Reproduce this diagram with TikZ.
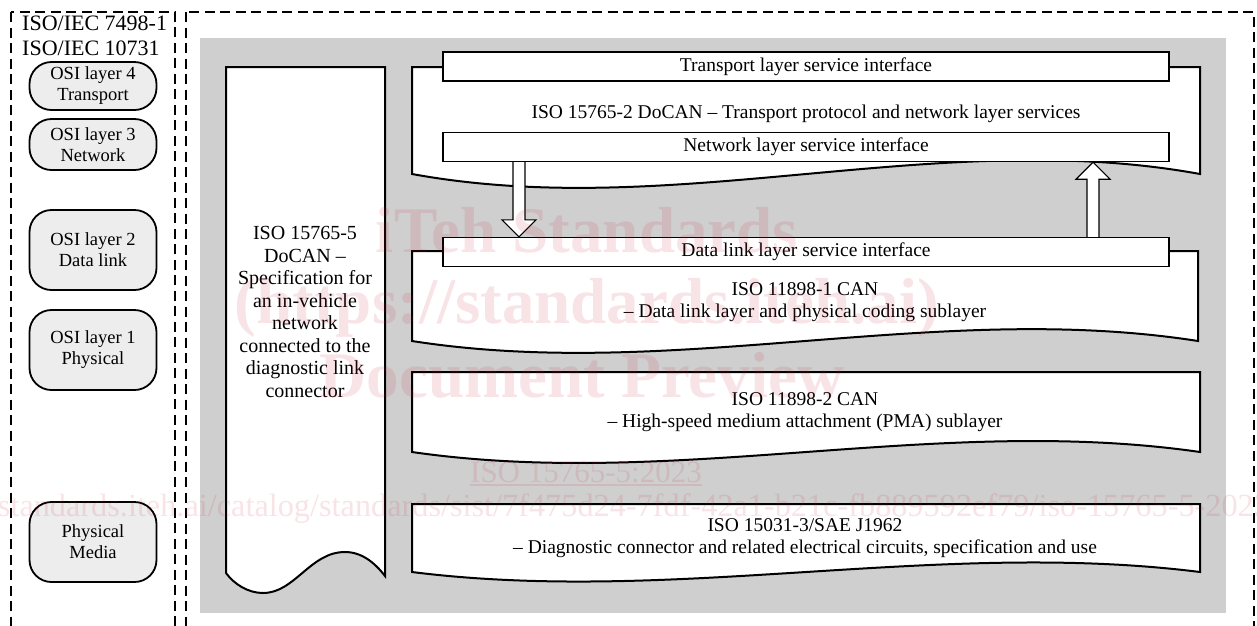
\documentclass[tikz,border=0pt]{standalone}
\usepackage{fontspec}
\setmainfont{Liberation Serif}
\usetikzlibrary{calc}
\definecolor{wmred}{RGB}{200,30,60}

% box with flat top and a wavy bottom: left, top, right, bottom, bend
\newcommand{\wavebox}[5]{%
  \draw[layerbox] (#1,#4) -- (#1,#2) -- (#3,#2) -- (#3,#4)
    .. controls ({#1+2*(#3-#1)/3},{#4-#5}) and ({#1+(#3-#1)/3},{#4+#5}) .. cycle;}

\begin{document}
\begin{tikzpicture}[x=1pt,y=-1pt]
  \tikzstyle{every node}=[font=\fontsize{19.5}{22.5}\selectfont]
  \tikzstyle{dashframe}=[draw,line width=2.6pt,dash pattern=on 10pt off 5.5pt]
  \tikzstyle{osi}=[draw,line width=1.8pt,fill=black!7,rounded corners=22pt,minimum width=127pt,
                   align=center,inner sep=0pt,font=\fontsize{18.5}{21}\selectfont]
  \tikzstyle{layerbox}=[draw,line width=2pt,fill=white]
  \tikzstyle{bar}=[draw,line width=1.3pt,fill=white,minimum width=726pt,minimum height=29pt,inner sep=0pt]
  \tikzstyle{blockarrow}=[draw,line width=1.2pt,fill=white]
  \tikzstyle{wmark}=[anchor=base,inner sep=0pt,font=\fontsize{65}{70}\selectfont\bfseries]
  \useasboundingbox (0,0) rectangle (1257,625);

  % frames and background
  \draw[dashframe] (11,12) rectangle (175,640);
  \draw[dashframe] (186,12) rectangle (1254,640);
  \fill[black!19] (200,38) rectangle (1226,613);

  % OSI column
  \node[anchor=west,align=left,inner sep=0pt,font=\fontsize{22}{25}\selectfont] (isoiec) at (22,35.5)
       {ISO/IEC 7498-1\\ISO/IEC 10731};
  \node[osi,minimum height=48pt] (osi4) at (93,86) {OSI layer 4\\Transport};
  \node[osi,minimum height=51pt] (osi3) at (93,144.5) {OSI layer 3\\Network};
  \node[osi,minimum height=80pt] (osi2) at (93,250) {OSI layer 2\\Data link};
  \node[osi,minimum height=80pt] (osi1) at (93,350) {OSI layer 1\\Physical};
  \node[osi,minimum height=80pt] (media) at (93,542) {Physical\\Media};

  % ISO 15765-5 column
  \draw[layerbox] (226,573) -- (226,67) -- (385,67) -- (385,576)
    .. controls (375,563) and (362,552) .. (345,552)
    .. controls (310,552) and (295,593) .. (263,593)
    .. controls (248,593) and (234,584) .. (226,573) -- cycle;
  \node[align=center,font=\fontsize{20}{22.5}\selectfont] (docan5) at (305,312) {ISO 15765-5\\DoCAN --\\Specification for\\an in-vehicle\\network\\connected to the\\diagnostic link\\connector};

  % layer boxes
  \wavebox{412}{67}{1200}{174}{48}
  \wavebox{412}{251}{1198}{341}{41}
  \wavebox{412}{372}{1200}{452}{38}
  \wavebox{412}{504}{1200}{572}{33}
  \node (docan2) at (806,114) {ISO 15765-2 DoCAN -- Transport protocol and network layer services};
  \node[align=center] (can1) at (805,302) {ISO 11898-1 CAN\\-- Data link layer and physical coding sublayer};
  \node[align=center] (can2) at (805,412) {ISO 11898-2 CAN\\-- High-speed medium attachment (PMA) sublayer};
  \node[align=center] (j1962) at (805,538) {ISO 15031-3/SAE J1962\\-- Diagnostic connector and related electrical circuits, specification and use};

  % service interfaces
  \node[bar] (tlbar) at (806,66.5) {Transport layer service interface};
  \node[bar] (nlbar) at (806,147) {Network layer service interface};
  \node[bar] (dlbar) at (806,252) {Data link layer service interface};

  % arrows
  \coordinate (dnx) at (519,0);
  \coordinate (upx) at (1093,0);
  \draw[blockarrow] ([xshift=-6pt]nlbar.south -| dnx) -- ([xshift=-6pt,yshift=17pt]dlbar.north -| dnx)
    -- ([xshift=-17pt,yshift=17pt]dlbar.north -| dnx) -- (dlbar.north -| dnx)
    -- ([xshift=17pt,yshift=17pt]dlbar.north -| dnx) -- ([xshift=6pt,yshift=17pt]dlbar.north -| dnx)
    -- ([xshift=6pt]nlbar.south -| dnx);
  \draw[blockarrow] ([xshift=-6pt]dlbar.north -| upx) -- ([xshift=-6pt,yshift=-17pt]nlbar.south -| upx)
    -- ([xshift=-17pt,yshift=-17pt]nlbar.south -| upx) -- (nlbar.south -| upx)
    -- ([xshift=17pt,yshift=-17pt]nlbar.south -| upx) -- ([xshift=6pt,yshift=-17pt]nlbar.south -| upx)
    -- ([xshift=6pt]dlbar.north -| upx);

  % watermark
  \begin{scope}[opacity=0.12,text=wmred]
    \clip (0,0) rectangle (1257,625);
    \node[wmark] (wm1) at (587,252) {iTeh Standards};
    \node[wmark] (wm2) at (587,323) {(https://standards.iteh.ai)};
    \node[wmark] (wm3) at (582,397) {Document Preview};
    \node[wmark,font=\fontsize{31}{34}\selectfont] (wm4) at (586,482) {ISO 15765-5:2023};
    \draw[wmred,line width=1.5pt] ([yshift=-3pt]wm4.base west) -- ([yshift=-3pt]wm4.base east);
    \node[wmark,anchor=base west,font=\fontsize{32.3}{35}\selectfont] (wm5) at (-92,516)
      {https://standards.iteh.ai/catalog/standards/sist/7f475d24-7fdf-42a1-b21c-fb889592ef79/iso-15765-5-2023};
  \end{scope}
\end{tikzpicture}
\end{document}
